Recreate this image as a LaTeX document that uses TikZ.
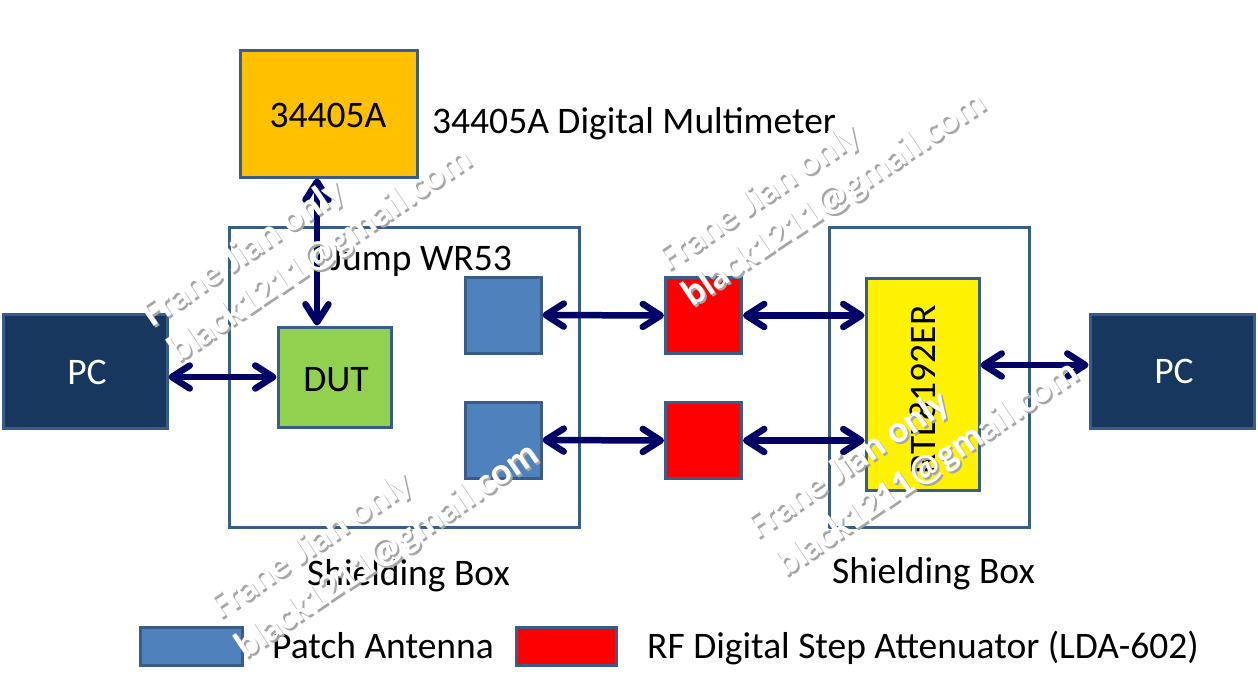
\documentclass[tikz,border=0pt]{standalone}
\usepackage{fontspec}
\setmainfont{Carlito}[BoldFont={Carlito Bold}]
\usetikzlibrary{arrows.meta,calc}
\definecolor{bord}{HTML}{385D8A}
\definecolor{gold}{HTML}{FFC000}
\definecolor{ant}{HTML}{4F81BD}
\definecolor{dutg}{HTML}{92D050}
\definecolor{pcb}{HTML}{17375E}
\definecolor{navyarr}{HTML}{000066}
\newcommand\bigtxt{\fontsize{37.5}{45}\selectfont}
\newcommand\wmtxt{\bfseries\fontsize{38}{45}\selectfont}
\newcommand\wmline[3]{%
  \node[wmsh,anchor=base west] at ($(#1,#2)+(2,2)$) {#3};
  \node[wmfg,anchor=base west] at (#1,#2) {#3};}
\newcommand\wmark[4]{%
  \wmline{#1}{#2}{Frane Jian only}
  \wmline{#3}{#4}{black1211@gmail.com}}
\begin{document}
\begin{tikzpicture}[x=1pt,y=-1pt,
  blk/.style={draw=bord, line width=3pt, rectangle, inner sep=0pt, font=\bigtxt},
  lbl/.style={inner sep=0pt, font=\bigtxt},
  arr/.style={draw=navyarr, line width=6.5pt, {Straight Barb[length=18pt,width=23pt,round]}-{Straight Barb[length=18pt,width=23pt,round]}},
  wmfg/.style={inner sep=0pt, rotate=34, text=white, font=\wmtxt},
  wmsh/.style={inner sep=0pt, rotate=34, text=black!35, font=\wmtxt}]
\useasboundingbox (0,0) rectangle (1258,691);
% boxes
\node[blk, fill=gold, minimum width=177pt, minimum height=127pt] (meter) at (328.5,113.5) {};
\node[lbl, anchor=base] at (328,127) {34405A};
\node[lbl, anchor=base west] (meterlbl) at (432,133) {34405A Digital Multimeter};
\node[blk, minimum width=350pt, minimum height=300pt] (shL) at (404,377) {};
\node[lbl, anchor=base] (jump) at (421,270) {Jump WR53};
\node[blk, fill=ant, minimum width=76pt, minimum height=76pt] (antT) at (503,315) {};
\node[blk, fill=ant, minimum width=76pt, minimum height=76pt] (antB) at (503,440) {};
\node[blk, fill=dutg, minimum width=113pt, minimum height=100pt] (dut) at (334.5,377) {};
\node[lbl, anchor=base] at (336,391) {DUT};
\node[blk, fill=pcb, minimum width=164pt, minimum height=114pt] (pcL) at (85,371) {};
\node[lbl, anchor=base, text=white] at (87,384) {PC};
\node[blk, fill=red, minimum width=76pt, minimum height=76pt] (attT) at (703.5,315.5) {};
\node[blk, fill=red, minimum width=76pt, minimum height=76pt] (attB) at (703.5,440.5) {};
\node[blk, minimum width=200pt, minimum height=300pt] (shR) at (929,377) {};
\node[blk, fill=yellow, minimum width=113pt, minimum height=212pt] (rtl) at (922.5,384) {};
\node[lbl, rotate=90, anchor=base] at (935,390) {RTL8192ER};
\node[blk, fill=pcb, minimum width=164pt, minimum height=114pt] (pcR) at (1172,371) {};
\node[lbl, anchor=base, text=white] at (1174,383) {PC};
\node[lbl, anchor=base west] (shLlbl) at (307,585) {Shielding Box};
\node[lbl, anchor=base west] (shRlbl) at (832,583) {Shielding Box};
% legend
\node[blk, fill=ant, minimum width=102pt, minimum height=38pt] (legA) at (191,646) {};
\node[lbl, anchor=base west] at (272,658) {Patch Antenna};
\node[blk, fill=red, minimum width=100pt, minimum height=38pt] (legR) at (566,646) {};
\node[lbl, anchor=base west] at (647,658) {RF Digital Step Attenuator (LDA-602)};
% connectors
\coordinate (vx) at (317,0);
\coordinate (hy) at (0,365);
\draw[arr] (meter.south -| vx) -- (dut.north -| vx);
\draw[arr] (pcL.east |- dut.west) -- (dut.west);
\draw[arr] (antT.east) -- (attT.west);
\draw[arr] (antB.east) -- (attB.west);
\draw[arr] (attT.east) -- (rtl.west |- attT.east);
\draw[arr] (attB.east) -- (rtl.west |- attB.east);
\draw[arr] (rtl.east |- hy) -- (pcR.west |- hy);
% watermarks
\wmark{152}{328}{178}{364}
\wmark{668}{272}{692}{308}
\wmark{757}{540}{785}{578}
\wmark{220}{620}{245}{660}
\end{tikzpicture}
\end{document}
